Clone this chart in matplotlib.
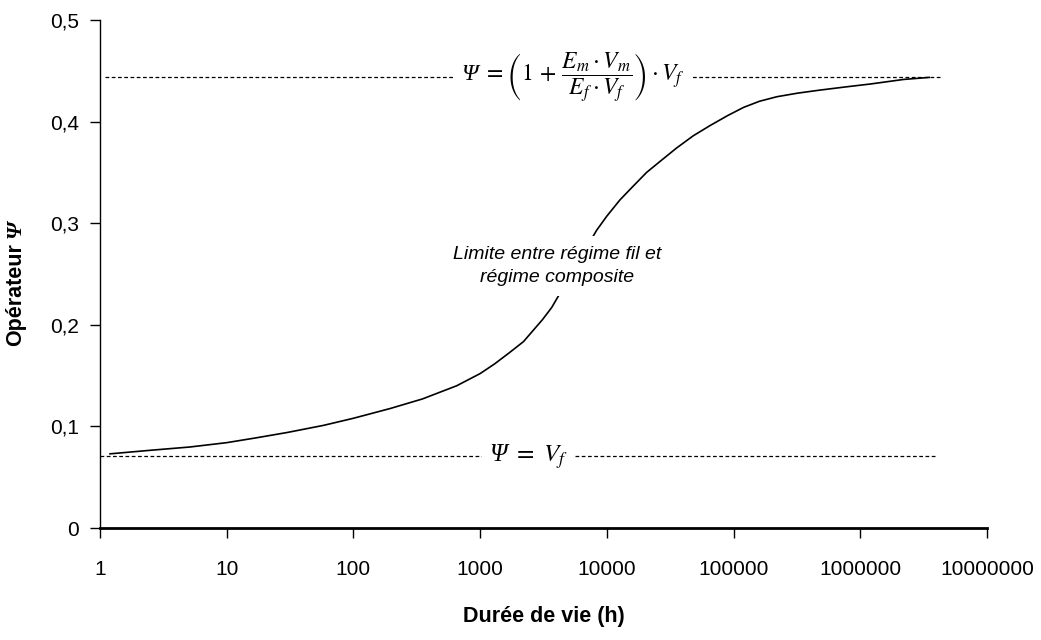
import matplotlib
matplotlib.use("Agg")
import matplotlib.pyplot as plt
import numpy as np

# Data
duree_h = [1.2, 2.5, 5.1, 10, 17, 30, 58, 100, 195, 350, 653, 1000, 1300, 1720,
           2200, 2630, 3100, 3670, 8300, 10000, 12700, 16000, 20600, 27000, 35500,
           48000, 65000, 90000, 120000, 160000, 220000, 320000, 480000, 750000,
           1200000, 2200000, 3500000]
psi = [0.073, 0.0765, 0.0797, 0.084, 0.0887, 0.094, 0.101, 0.108, 0.1176, 0.127,
       0.140, 0.152, 0.1615, 0.173, 0.1835, 0.1947, 0.205, 0.217, 0.293, 0.307,
       0.323, 0.336, 0.350, 0.362, 0.374, 0.386, 0.396, 0.406, 0.414, 0.420,
       0.4245, 0.428, 0.431, 0.434, 0.437, 0.4415, 0.4435]

psi_max = 0.4435   # Psi = (1 + Em Vm / Ef Vf) Vf
psi_min = 0.0707   # Psi = Vf
x_limits = [1, 1e7]
y_ticks = [0, 0.1, 0.2, 0.3, 0.4, 0.5]
y_tick_labels = ["0", "0,1", "0,2", "0,3", "0,4", "0,5"]
x_ticks = [1, 10, 100, 1000, 10000, 100000, 1000000, 10000000]
x_tick_labels = ["1", "10", "100", "1000", "10000", "100000", "1000000", "10000000"]

plt.rcParams["mathtext.fontset"] = "stix"
tick_font = ["Liberation Sans", "DejaVu Sans"]
label_font = ["Liberation Sans Narrow", "Liberation Sans", "DejaVu Sans"]
serif_font = ["Liberation Serif", "DejaVu Serif"]

fig = plt.figure(figsize=(10.41, 6.40), dpi=100)
ax = fig.add_axes([100/1041, 1 - 528/640, 887/1041, 508/640])

ax.set_xscale("log")
ax.set_xlim(x_limits)
ax.set_ylim(0, 0.5)


def px_to_x(px):
    return 10 ** ((px - 100) / 126.7)


# reference lines
ax.plot([px_to_x(105), px_to_x(940)], [psi_max, psi_max], color="black", lw=0.9, ls=(0, (3, 2)))
ax.plot([1.0, px_to_x(936)], [psi_min, psi_min], color="black", lw=0.9, ls=(0, (3, 2)))

# curve
ax.plot(duree_h, psi, color="black", lw=1.2)

# formulas
ax.text(px_to_x(573), psi_max,
        "Ψ" + r" $=\left(1\,+\,\dfrac{E_m\cdot V_m}{E_f\cdot V_f}\right)\cdot V_f$",
        ha="center", va="center", fontsize=17, family=serif_font, style="italic",
        bbox=dict(facecolor="white", edgecolor="none", pad=5))
ax.text(px_to_x(528), psi_min, "Ψ" + r" $=\ V_f$",
        ha="center", va="center", fontsize=18, family=serif_font, style="italic",
        bbox=dict(facecolor="white", edgecolor="none", pad=5))

ax.text(px_to_x(557), 0.258, "Limite entre régime fil et\nrégime composite",
        ha="center", va="center", fontsize=14, style="italic", family=tick_font,
        linespacing=1.5,
        bbox=dict(facecolor="white", edgecolor="none", pad=7))

# axes styling
for s in ["top", "right"]:
    ax.spines[s].set_visible(False)
ax.spines["left"].set_linewidth(1.0)
ax.spines["bottom"].set_linewidth(2.0)

ax.set_yticks(y_ticks)
ax.set_yticklabels(y_tick_labels, family=tick_font, fontsize=15)
ax.set_xticks(x_ticks)
ax.set_xticklabels(x_tick_labels, family=tick_font, fontsize=15)
ax.xaxis.set_minor_locator(matplotlib.ticker.NullLocator())
ax.tick_params(axis="y", direction="out", length=7, width=1, pad=8)
ax.tick_params(axis="x", direction="out", length=7, width=1, pad=16)

ax.set_xlabel("Durée de vie (h)", family=label_font, fontweight="bold", fontsize=15.5)
ax.xaxis.set_label_coords(0.5, -(606 - 528) / 508)

# y label: "Opérateur" (bold sans) followed by a bold italic Psi
ylab = fig.text(26 / 1041, 1 - 295 / 640, "Opérateur", rotation=90, ha="right", va="center",
                family=label_font, fontweight="bold", fontsize=15.5)
fig.canvas.draw()
bb = ylab.get_window_extent()
fig.text(bb.x1 / 1041, (bb.y1 + 6) / 640, "Ψ", rotation=90, ha="right", va="bottom",
         family=serif_font, fontweight="bold", style="italic", fontsize=16)

fig.savefig("out.png", dpi=100, facecolor="white")
